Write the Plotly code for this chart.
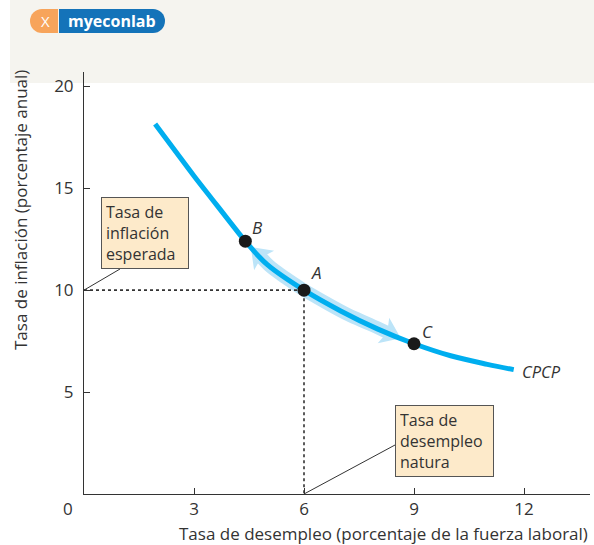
import math
import plotly.graph_objects as go

# ---------------- data ----------------
curve_x = [1.94, 2.5, 3.0, 3.5, 4.0, 4.4, 5.0, 6.0, 7.0, 8.0, 9.0, 10.0, 11.0, 11.72]
curve_y = [18.15, 16.8, 15.6, 14.45, 13.3, 12.4, 11.25, 10.0, 8.98, 8.1, 7.37, 6.78, 6.36, 6.1]

point_names = ["B", "A", "C"]
point_x = [4.4, 6.0, 9.0]
point_y = [12.4, 10.0, 7.37]

arrow_up_x = [6.0, 5.5, 5.05, 4.8]
arrow_up_y = [10.0, 10.6, 11.2, 11.68]
arrow_up_tip = (4.55, 12.12)

arrow_down_x = [6.0, 6.6, 7.2, 7.8, 8.3]
arrow_down_y = [10.0, 9.38, 8.8, 8.32, 7.9]
arrow_down_tip = (8.64, 7.64)

expected_inflation = 10
natural_unemployment = 6

x_ticks = [3, 6, 9, 12]
y_ticks = [5, 10, 15, 20]
x_range = [0, 13.8]
y_range = [0, 20.7]

# ---------------- layout geometry (pixels) ----------------
W, H = 594, 545
L, R, T, B = 84, 590, 72, 494
SX = (R - L) / (x_range[1] - x_range[0])   # px per x unit
SY = (B - T) / (y_range[1] - y_range[0])   # px per y unit


def pxx(p):  # pixel x -> paper
    return (p - L) / (R - L)


def pxy(p):  # pixel y -> paper
    return (B - p) / (B - T)


def dx(p):  # pixel x -> data
    return (p - L) / SX


def dy(p):  # pixel y -> data
    return (B - p) / SY


FONT = "Open Sans"
TXT = "#333333"
CURVE = "#00AEEF"
BAND = "#BCE4F8"
BOX_FILL = "#FDEACA"

fig = go.Figure()

shapes = []


def head_path(tip, back, length=19, half=14):
    vx = (tip[0] - back[0]) * SX
    vy = (tip[1] - back[1]) * SY
    n = math.hypot(vx, vy)
    ux, uy = vx / n, vy / n
    px_, py_ = -uy, ux
    bx = -ux * length
    by = -uy * length
    pts = [
        (0, 0),
        (bx + px_ * half, by + py_ * half),
        (bx * 0.78, by * 0.78),
        (bx - px_ * half, by - py_ * half),
    ]
    coords = [(tip[0] + a / SX, tip[1] + b / SY) for a, b in pts]
    return "M " + " L ".join(f"{a:.4f},{b:.4f}" for a, b in coords) + " Z"


for bx_, by_, tip in [(arrow_up_x, arrow_up_y, arrow_up_tip),
                      (arrow_down_x, arrow_down_y, arrow_down_tip)]:
    fig.add_trace(go.Scatter(x=bx_, y=by_, mode="lines", line=dict(color=BAND, width=13, shape="spline"),
                             hoverinfo="skip", showlegend=False))
    shapes.append(dict(type="path", xref="x", yref="y", path=head_path(tip, (bx_[-2], by_[-2])),
                       fillcolor=BAND, line=dict(width=0), layer="below"))

# dotted guide lines
fig.add_trace(go.Scatter(x=[0, natural_unemployment, natural_unemployment],
                         y=[expected_inflation, expected_inflation, 0],
                         mode="lines", line=dict(color="#333333", width=1.6, dash="dot"),
                         hoverinfo="skip", showlegend=False))

# CPCP curve
fig.add_trace(go.Scatter(x=curve_x, y=curve_y, mode="lines",
                         line=dict(color=CURVE, width=5, shape="spline", smoothing=1.0),
                         hoverinfo="skip", showlegend=False))

# points
fig.add_trace(go.Scatter(x=point_x, y=point_y, mode="markers",
                         marker=dict(color="#1a1a1a", size=13),
                         hoverinfo="skip", showlegend=False))

annotations = []
label_offsets = {"B": (12, 14), "A": (12, 18), "C": (13, 12)}
for n, xv, yv in zip(point_names, point_x, point_y):
    ox, oy = label_offsets[n]
    annotations.append(dict(x=xv, y=yv, xref="x", yref="y", text=f"<i>{n}</i>", showarrow=False,
                            xanchor="center", yanchor="middle",
                            xshift=ox, yshift=oy, font=dict(family=FONT, size=17, color=TXT)))

annotations.append(dict(x=curve_x[-1], y=curve_y[-1], xref="x", yref="y", text="<i>CPCP</i>",
                        showarrow=False, xanchor="left", yanchor="middle", xshift=6, yshift=-2,
                        font=dict(family=FONT, size=16.5, color=TXT)))

# boxes
annotations.append(dict(x=pxx(101), y=pxy(197), xref="paper", yref="paper", xanchor="left", yanchor="top",
                        text="Tasa de<br>inflación<br>esperada", align="left", valign="middle",
                        showarrow=False, bgcolor=BOX_FILL, bordercolor="#555555", borderwidth=1,
                        borderpad=4, width=78, height=62, font=dict(family=FONT, size=16, color=TXT)))
annotations.append(dict(x=pxx(395), y=pxy(405), xref="paper", yref="paper", xanchor="left", yanchor="top",
                        text="Tasa de<br>desempleo<br>natura", align="left", valign="middle",
                        showarrow=False, bgcolor=BOX_FILL, bordercolor="#555555", borderwidth=1,
                        borderpad=4, width=89, height=62, font=dict(family=FONT, size=16, color=TXT)))

# origin label
annotations.append(dict(x=pxx(68), y=pxy(508), xref="paper", yref="paper", text="0", showarrow=False,
                        xanchor="center", yanchor="middle",
                        font=dict(family=FONT, size=17, color=TXT)))

# axis titles
annotations.append(dict(x=pxx(590), y=pxy(533), xref="paper", yref="paper", xanchor="right",
                        yanchor="middle",
                        text="Tasa de desempleo (porcentaje de la fuerza laboral)", showarrow=False,
                        font=dict(family=FONT, size=17, color=TXT)))
annotations.append(dict(x=pxx(20), y=pxy(210), xref="paper", yref="paper", textangle=-90,
                        xanchor="center", yanchor="middle",
                        text="Tasa de inflación (porcentaje anual)", showarrow=False,
                        font=dict(family=FONT, size=17, color=TXT)))

# logo text
annotations.append(dict(x=pxx(112), y=pxy(21), xref="paper", yref="paper",
                        xanchor="center", yanchor="middle",
                        text="<b>myeconlab</b>", showarrow=False,
                        font=dict(family=FONT, size=16, color="white")))
annotations.append(dict(x=pxx(45), y=pxy(21), xref="paper", yref="paper",
                        xanchor="center", yanchor="middle",
                        text="X", showarrow=False,
                        font=dict(family=FONT, size=15, color="white")))

shapes += [
    dict(type="rect", xref="paper", yref="paper", x0=pxx(10), x1=pxx(594), y0=pxy(83), y1=pxy(0),
         fillcolor="#F5F4EF", line=dict(width=0), layer="below"),
    dict(type="circle", xref="paper", yref="paper", x0=pxx(30), x1=pxx(54), y0=pxy(33), y1=pxy(9),
         fillcolor="#F7A45B", line=dict(width=0), layer="below"),
    dict(type="rect", xref="paper", yref="paper", x0=pxx(42), x1=pxx(58), y0=pxy(33), y1=pxy(9),
         fillcolor="#F7A45B", line=dict(width=0), layer="below"),
    dict(type="circle", xref="paper", yref="paper", x0=pxx(141), x1=pxx(165), y0=pxy(33), y1=pxy(9),
         fillcolor="#1473B9", line=dict(width=0), layer="below"),
    dict(type="rect", xref="paper", yref="paper", x0=pxx(59), x1=pxx(153), y0=pxy(33), y1=pxy(9),
         fillcolor="#1473B9", line=dict(width=0), layer="below"),
    dict(type="line", xref="x", yref="y", x0=0, y0=expected_inflation, x1=dx(120), y1=dy(269),
         line=dict(color="#333333", width=1)),
    dict(type="line", xref="x", yref="y", x0=natural_unemployment, y0=0, x1=dx(395), y1=dy(445),
         line=dict(color="#333333", width=1)),
]

axis_common = dict(showgrid=False, zeroline=False, showline=True, linecolor="#333333", linewidth=1,
                   ticks="inside", ticklen=6, tickcolor="#333333", tickwidth=1,
                   tickfont=dict(family=FONT, size=17, color=TXT))

fig.update_layout(
    width=W, height=H,
    margin=dict(l=L, r=W - R, t=T, b=H - B),
    paper_bgcolor="white", plot_bgcolor="rgba(0,0,0,0)",
    xaxis=dict(range=x_range, tickvals=x_ticks, **axis_common),
    yaxis=dict(range=y_range, tickvals=y_ticks, ticklabelstandoff=6, **axis_common),
    annotations=annotations, shapes=shapes, showlegend=False,
)

fig.write_html("out.html", config={"displayModeBar": False},
               post_script="document.body.style.margin='0';")
